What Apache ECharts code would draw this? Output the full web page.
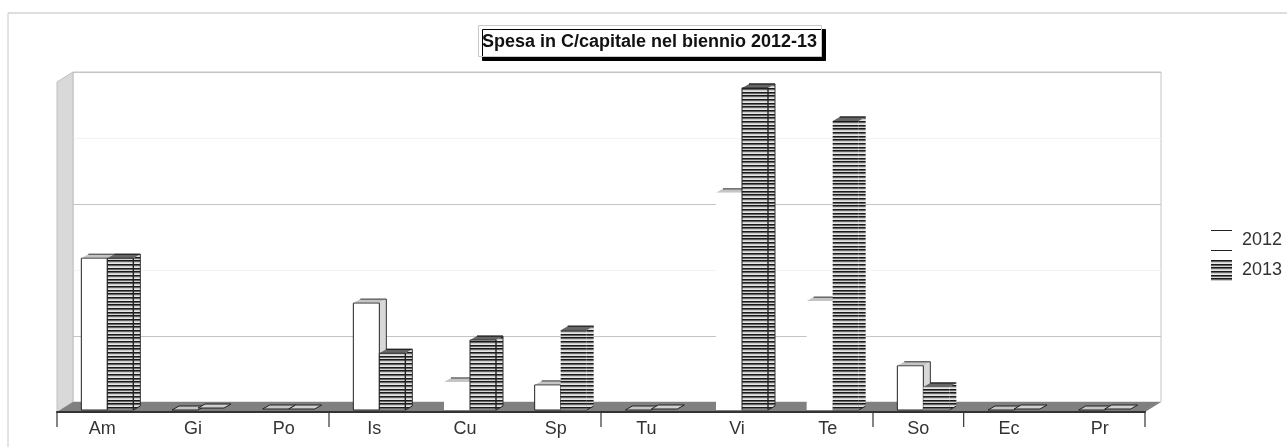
<!DOCTYPE html>
<html>
<head>
<meta charset="utf-8">
<style>html,body{margin:0;padding:0;background:#fff}#c{width:1287px;height:447px}</style>
<script src="https://cdn.jsdelivr.net/npm/echarts@6/dist/echarts.min.js"></script>
</head>
<body>
<div id="c"></div>
<script>
var categories = ['Am','Gi','Po','Is','Cu','Sp','Tu','Vi','Te','So','Ec','Pr'];
var values2012 = [2300,0,15,1620,425,380,0,3290,1650,670,0,0];
var values2013 = [2300,30,15,860,1060,1210,15,4880,4380,350,15,15];
var seriesNames = ['2012','2013'];
var tickStops = [0,3,6,9,10,12];
var yMax = 5000, yStep = 1000;

var noOutline2012 = ['Cu','Vi','Te'];
var noOutline2013 = ['Sp','Te','So'];

function hatch() {
  var rows = ['#1a1a1a','#666','#ccc','#e6e6e6','#1a1a1a','#666','#d4d4d4','#1a1a1a','#666','#ccc','#e6e6e6'];
  var cv = document.createElement('canvas');
  cv.width = 4; cv.height = rows.length;
  var ctx = cv.getContext('2d');
  rows.forEach(function (c, i) { ctx.fillStyle = c; ctx.fillRect(0, i, 4, 1); });
  return { image: cv, repeat: 'repeat' };
}
var hatchFill = hatch();

var DX = 7, DY = 4, SHIFT_X = 5, SHIFT_Y = 2, BAR_W = 26, FLAT = 100;

function poly(points, fill, stroke, z2) {
  return { type: 'polygon', shape: { points: points }, z2: z2 || 0,
    style: { fill: fill, stroke: stroke || null, lineWidth: 1 } };
}
function line(a, b, color, w, z2) {
  return { type: 'line', shape: { x1: a[0], y1: a[1], x2: b[0], y2: b[1] }, z2: z2 || 1,
    style: { stroke: color, lineWidth: w || 1 } };
}

function barRenderer(seriesIndex) {
  return function (params, api) {
    var i = api.value(0), v = api.value(1);
    var p = api.coord([i, v]);
    var b = api.coord([i, 0]);
    var x0 = p[0] + SHIFT_X - (seriesIndex === 0 ? BAR_W : 0);
    var x1 = x0 + BAR_W;
    var top = p[1] - SHIFT_Y, bot = b[1] - SHIFT_Y;
    var name = categories[i];
    var children = [];
    var topFace = [[x0, top], [x1, top], [x1 + DX, top - DY], [x0 + DX, top - DY]];
    if (v < FLAT) {
      children.push(poly(topFace, seriesIndex === 0 ? '#c4c4c4' : '#d0d0d0', '#222'));
      return { type: 'group', children: children };
    }
    if (seriesIndex === 0) {
      var out = noOutline2012.indexOf(name) < 0;
      children.push(poly([[x1, top], [x1 + DX, top - DY], [x1 + DX, bot - DY], [x1, bot]], out ? '#d8d8d8' : '#fff'));
      children.push(poly(topFace, '#c4c4c4'));
      children.push({ type: 'rect', shape: { x: x0, y: top, width: BAR_W, height: bot - top }, style: { fill: '#fff' } });
      if (out) {
        children.push(line([x0, bot], [x0, top], '#222'));
        children.push(line([x0, top], [x1, top], '#444'));
        children.push(line([x1, top], [x1, bot], '#222'));
        children.push(line([x0, bot], [x1, bot], '#222'));
        children.push(line([x1 + DX, top - DY], [x1 + DX, bot - DY], '#333'));
      }
      children.push(line([x0 + DX, top - DY], [x1 + DX, top - DY], '#333'));
    } else {
      var o = noOutline2013.indexOf(name) < 0;
      children.push(poly([[x1, top], [x1 + DX, top - DY], [x1 + DX, bot - DY], [x1, bot]], hatchFill));
      children.push(poly(topFace, '#666'));
      children.push({ type: 'rect', shape: { x: x0, y: top, width: BAR_W, height: bot - top }, style: { fill: hatchFill } });
      children.push(line([x0 + DX, top - DY], [x1 + DX, top - DY], '#111', 1.2));
      if (o) {
        children.push(line([x0, bot], [x0, top], '#222'));
        children.push(line([x1, top], [x1, bot], '#222', 1.4));
        children.push(line([x1 + DX, top - DY], [x1 + DX, bot - DY], '#333'));
        children.push(line([x0, top], [x1, top], '#333'));
      }
      children.push(line([x0, bot], [x1, bot], '#444'));
      children.push(line([x1, bot], [x1 + DX, bot - DY], '#222'));
    }
    return { type: 'group', children: children };
  };
}

function sceneryRenderer(params, api) {
  var o = api.coord([0, 0]), t = api.coord([0, yMax]);
  var band = api.size([1, 0])[0];
  var left = o[0] - band / 2, right = left + band * categories.length;
  var bx = 16, by = 10;
  var kids = [
    poly([[left, t[1]], [left + bx, t[1] - by], [left + bx, o[1] - by], [left, o[1]]], '#d9d9d9', '#c0c0c0'),
    poly([[left, o[1]], [left + bx, o[1] - by], [right + bx, o[1] - by], [right, o[1]]], '#808080')
  ];
  tickStops.forEach(function (s) {
    var x = left + band * s;
    kids.push(line([x, o[1]], [x, o[1] + 15], '#333', 1.2));
  });
  return { type: 'group', children: kids };
}

function toData(arr) { return arr.map(function (v, i) { return [i, v]; }); }

var option = {
  backgroundColor: '#fff',
  animation: false,
  title: {
    text: 'Spesa in C/capitale nel biennio 2012-13',
    left: 478, top: 25,
    padding: [8, 5, 6, 4],
    backgroundColor: '#fff', borderColor: '#c8c8c8', borderWidth: 1,
    shadowColor: '#000', shadowBlur: 0, shadowOffsetX: 4, shadowOffsetY: 4,
    textStyle: { fontFamily: 'Liberation Sans', fontSize: 18, fontWeight: 'bold', color: '#111' }
  },
  legend: {
    orient: 'vertical', left: 1211, top: 230, padding: 0,
    itemWidth: 21, itemHeight: 21, itemGap: 9, selectedMode: false,
    textStyle: { fontFamily: 'Liberation Sans', fontSize: 18, color: '#333', padding: [2, 0, 0, 5] },
    data: [
      { name: seriesNames[0], icon: 'path://M0 0H21V1H0Z M0 20H21V21H0Z', itemStyle: { color: '#222' } },
      { name: seriesNames[1], icon: 'rect', itemStyle: { color: hatchFill } }
    ]
  },
  grid: [
    { left: 57, top: 82, width: 1088, height: 330 },
    { left: 73, top: 72, width: 1088, height: 330, show: true, borderColor: '#c4c4c4', borderWidth: 1, backgroundColor: '#fff', z: 0 }
  ],
  xAxis: [
    { type: 'category', gridIndex: 0, data: categories, z: 5,
      axisLine: { lineStyle: { color: '#333', width: 2 } },
      axisTick: { show: false },
      axisLabel: { interval: 0, margin: 8, fontFamily: 'Liberation Sans', fontSize: 18, color: '#333' } },
    { type: 'category', gridIndex: 1, data: categories, show: false }
  ],
  yAxis: [
    { type: 'value', gridIndex: 0, min: 0, max: yMax, interval: yStep, show: false, splitLine: { show: false } },
    { type: 'value', gridIndex: 1, min: 0, max: yMax, interval: yStep,
      axisLine: { show: false }, axisTick: { show: false }, axisLabel: { show: false },
      splitLine: { show: true, lineStyle: { color: ['#f3f3f3', '#c4c4c4'], width: 1 } } }
  ],
  graphic: [
    { type: 'line', shape: { x1: 8, y1: 13, x2: 1287, y2: 13 }, style: { stroke: '#bcbcbc', lineWidth: 1 }, silent: true },
    { type: 'line', shape: { x1: 8, y1: 13, x2: 8, y2: 447 }, style: { stroke: '#c8c8c8', lineWidth: 1 }, silent: true }
  ],
  series: [
    { type: 'custom', name: 'scenery', xAxisIndex: 0, yAxisIndex: 0, z: 1, clip: false, silent: true,
      data: [[0, 0]], encode: { x: 0, y: 1 }, renderItem: sceneryRenderer },
    { type: 'custom', name: seriesNames[0], xAxisIndex: 0, yAxisIndex: 0, z: 2, clip: false, silent: true,
      itemStyle: { color: '#222' }, data: toData(values2012), encode: { x: 0, y: 1 }, renderItem: barRenderer(0) },
    { type: 'custom', name: seriesNames[1], xAxisIndex: 0, yAxisIndex: 0, z: 3, clip: false, silent: true,
      itemStyle: { color: hatchFill }, data: toData(values2013), encode: { x: 0, y: 1 }, renderItem: barRenderer(1) }
  ]
};
echarts.init(document.getElementById('c')).setOption(option);
</script>
</body>
</html>
